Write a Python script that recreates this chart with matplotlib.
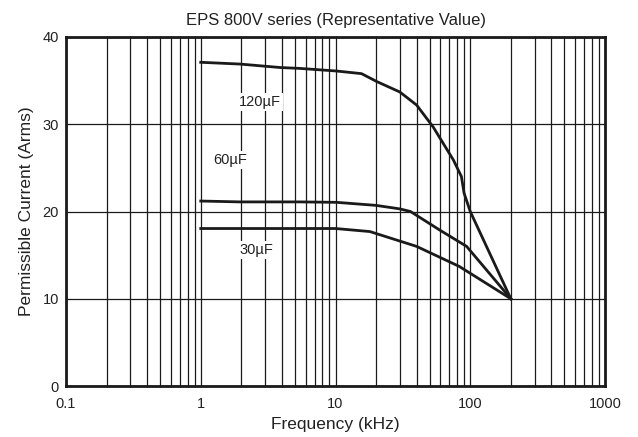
import numpy as np
import matplotlib.pyplot as plt
from matplotlib.ticker import LogLocator, FixedLocator, NullFormatter

plt.rcParams['font.family'] = ['Liberation Sans', 'DejaVu Sans']

# Frequency (kHz) / permissible current (Arms)
f_120 = [1, 1.95, 3.9, 5.45, 10.2, 15.6, 20.2, 30, 40, 53, 75, 86, 90, 100, 200]
i_120 = [37.1, 36.9, 36.5, 36.4, 36.1, 35.8, 34.9, 33.7, 32.2, 29.7, 25.9, 24.0, 22.1, 20.0, 10.0]

f_60 = [1, 1.95, 5.45, 10.2, 20, 30, 36, 59, 94, 200]
i_60 = [21.2, 21.1, 21.1, 21.05, 20.7, 20.3, 20.0, 17.9, 16.0, 10.0]

f_30 = [1, 10, 18, 40, 83, 200]
i_30 = [18.05, 18.05, 17.7, 16.0, 13.7, 10.0]

labels = ["120µF", "60µF", "30µF"]
label_pos = [(2.75, 32.5), (1.65, 25.9), (2.6, 15.6)]

fig = plt.figure(figsize=(6.38, 4.37), dpi=100)
ax = fig.add_axes([66/638, 1-386/437, 539/638, 349/437])

ax.set_xscale('log')
ax.set_xlim(0.1, 1000)
ax.set_ylim(0, 40)

ax.xaxis.set_major_locator(FixedLocator([0.1, 1, 10, 100, 1000]))
ax.set_xticklabels(["0.1", "1", "10", "100", "1000"])
ax.xaxis.set_minor_locator(LogLocator(base=10, subs=np.arange(2, 10)))
ax.xaxis.set_minor_formatter(NullFormatter())
ax.set_yticks([0, 10, 20, 30, 40])

ax.grid(True, which='both', axis='x', color='#1a1a1a', linewidth=0.9)
ax.grid(True, which='major', axis='y', color='#1a1a1a', linewidth=0.9)
ax.tick_params(which='both', length=0, labelsize=10.5, colors='#222222')
ax.tick_params(axis='x', pad=8)
ax.tick_params(axis='y', pad=5)

for s in ax.spines.values():
    s.set_linewidth(2)
    s.set_color('#1a1a1a')

for f, i in [(f_120, i_120), (f_60, i_60), (f_30, i_30)]:
    ax.plot(f, i, color='#1a1a1a', linewidth=2, zorder=3)

for lab, (x, y) in zip(labels, label_pos):
    ax.text(x, y, lab, ha='center', va='center', fontsize=10.5, color='#222222',
            bbox=dict(facecolor='white', edgecolor='none', pad=1.5), zorder=4)

ax.set_title("EPS 800V series (Representative Value)", fontsize=12, color='#222222', pad=9)
ax.set_xlabel("Frequency (kHz)", fontsize=12.5, color='#222222', labelpad=4)
ax.set_ylabel("Permissible Current (Arms)", fontsize=12.5, color='#222222', labelpad=6)

fig.savefig("out.png", dpi=100)
